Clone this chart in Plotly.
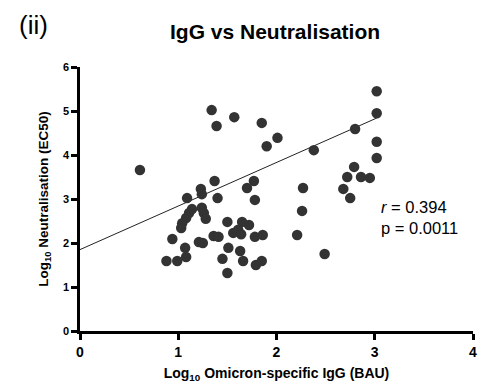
import plotly.graph_objects as go

# Log10 Omicron-specific IgG (BAU)
igg = [0.61, 1.34, 1.39, 1.57, 1.85, 1.90, 2.01, 2.38, 2.80, 3.02, 3.02, 3.02, 3.02,
       2.79, 2.72, 2.86, 2.95, 2.68, 2.75, 2.27, 1.70, 1.77, 1.78, 1.37, 1.40, 1.23,
       1.24, 1.09, 2.26, 2.21, 2.49, 1.50, 1.65, 1.72, 1.36, 1.41, 1.56, 1.61, 1.64,
       1.78, 1.86, 1.51, 1.63, 1.45, 1.66, 1.79, 1.85, 1.50, 1.14, 1.11, 1.08, 1.04,
       1.03, 1.24, 1.26, 1.28, 0.94, 1.07, 1.08, 0.99, 0.88, 1.21, 1.25]
# Log10 Neutralisation (EC50)
neut = [3.66, 5.02, 4.66, 4.86, 4.73, 4.20, 4.39, 4.11, 4.59, 5.45, 4.95, 4.30, 3.93,
        3.73, 3.50, 3.50, 3.48, 3.23, 3.02, 3.25, 3.25, 3.41, 2.98, 3.41, 3.02, 3.23,
        3.11, 3.02, 2.73, 2.18, 1.75, 2.48, 2.48, 2.41, 2.16, 2.14, 2.23, 2.30, 2.20,
        2.14, 2.18, 1.89, 1.82, 1.64, 1.59, 1.50, 1.59, 1.32, 2.77, 2.68, 2.57, 2.45,
        2.34, 2.80, 2.68, 2.55, 2.09, 1.89, 1.68, 1.59, 1.59, 2.02, 2.00]

# regression line
fit_intercept = 1.85
fit_slope = 0.99
fit_x = [0, 3.02]
fit_y = [fit_intercept + fit_slope * v for v in fit_x]

x_ticks = [0, 1, 2, 3, 4]
y_ticks = [0, 1, 2, 3, 4, 5, 6]

r_text = "<i>r</i> = 0.394"
p_text = "p = 0.0011"

fig = go.Figure()
fig.add_trace(go.Scatter(x=fit_x, y=fit_y, mode="lines",
                         line=dict(color="#222222", width=1), showlegend=False))
fig.add_trace(go.Scatter(x=igg, y=neut, mode="markers",
                         marker=dict(size=10.5, color="#333333"), showlegend=False))

font_family = "Liberation Sans, Arial, sans-serif"

W, H = 483, 388
l, r, t, b = 80, 6, 67, 57
pw, ph = W - l - r, H - t - b

def paper(px, py):
    return (px - l) / pw, 1 - (py - t) / ph

tx, ty = paper(277, 31)
ix, iy = paper(16, 25)
rx, ry = paper(382, 207)
px_, py_ = paper(382, 228)

fig.update_layout(
    width=W, height=H,
    margin=dict(l=l, r=r, t=t, b=b),
    paper_bgcolor="white", plot_bgcolor="white",
    font=dict(family=font_family, color="black"),
    xaxis=dict(range=[0, 4], tickvals=x_ticks, showgrid=False, zeroline=False,
               showline=True, linecolor="black", linewidth=2.5,
               ticks="outside", ticklen=6, tickwidth=2.5, tickcolor="black",
               tickfont=dict(size=14, weight="bold", family=font_family),
               title=dict(text="Log<sub>10</sub> Omicron-specific IgG (BAU)",
                          font=dict(size=14, weight="bold"), standoff=10)),
    yaxis=dict(range=[0, 6], tickvals=y_ticks, showgrid=False, zeroline=False,
               showline=True, linecolor="black", linewidth=2.5,
               ticks="outside", ticklen=6, tickwidth=2.5, tickcolor="black",
               tickfont=dict(size=11, weight="bold", family=font_family),
               title=dict(text="Log<sub>10</sub> Neutralisation (EC50)",
                          font=dict(size=13.5, weight="bold"), standoff=12)),
    annotations=[
        dict(text="IgG vs Neutralisation", xref="paper", yref="paper",
             x=tx, y=ty, xanchor="center", yanchor="middle", showarrow=False,
             font=dict(size=21, weight="bold")),
        dict(text="(ii)", xref="paper", yref="paper", x=ix, y=iy,
             xanchor="left", yanchor="middle", showarrow=False, font=dict(size=26)),
        dict(text=r_text, xref="paper", yref="paper", x=rx, y=ry,
             xanchor="left", yanchor="middle", showarrow=False, font=dict(size=16.5)),
        dict(text=p_text, xref="paper", yref="paper", x=px_, y=py_,
             xanchor="left", yanchor="middle", showarrow=False, font=dict(size=16.5)),
    ],
)

fig.write_html("out.html")
